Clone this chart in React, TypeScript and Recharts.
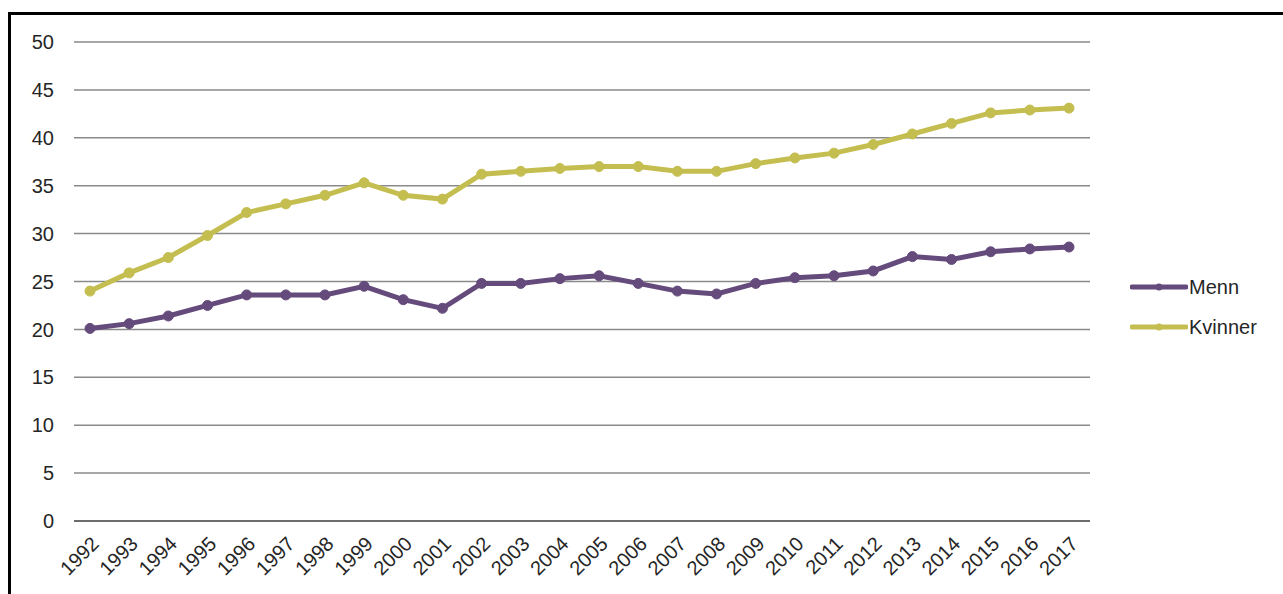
import { LineChart, Line, XAxis, YAxis, CartesianGrid, Legend } from "recharts";

const years = [
  "1992", "1993", "1994", "1995", "1996", "1997", "1998", "1999", "2000", "2001", "2002", "2003", "2004",
  "2005", "2006", "2007", "2008", "2009", "2010", "2011", "2012", "2013", "2014", "2015", "2016", "2017",
];

const menn = [
  20.1, 20.6, 21.4, 22.5, 23.6, 23.6, 23.6, 24.5, 23.1, 22.2, 24.8, 24.8, 25.3,
  25.6, 24.8, 24.0, 23.7, 24.8, 25.4, 25.6, 26.1, 27.6, 27.3, 28.1, 28.4, 28.6,
];

const kvinner = [
  24.0, 25.9, 27.5, 29.8, 32.2, 33.1, 34.0, 35.3, 34.0, 33.6, 36.2, 36.5, 36.8,
  37.0, 37.0, 36.5, 36.5, 37.3, 37.9, 38.4, 39.3, 40.4, 41.5, 42.6, 42.9, 43.1,
];

const yTicks = [0, 5, 10, 15, 20, 25, 30, 35, 40, 45, 50];

const MENN_COLOR = "#654b7c";
const KVINNER_COLOR = "#c4be50";
const FONT = "'Liberation Sans', Arial, sans-serif";

const data = years.map((year, i) => ({ year, Menn: menn[i], Kvinner: kvinner[i] }));

const LegendBox = () => {
  const items = [
    { name: "Menn", color: MENN_COLOR },
    { name: "Kvinner", color: KVINNER_COLOR },
  ];
  return (
    <div style={{ fontFamily: FONT }}>
      {items.map((it) => (
        <div key={it.name} style={{ display: "flex", alignItems: "center", height: 40 }}>
          <svg width={58} height={12} style={{ display: "block" }}>
            <line x1={2} y1={6} x2={56} y2={6} stroke={it.color} strokeWidth={5} strokeLinecap="round" />
            <circle cx={29} cy={6} r={3.5} fill={it.color} />
          </svg>
          <span style={{ fontSize: 20, color: "#262626", marginLeft: 1 }}>{it.name}</span>
        </div>
      ))}
    </div>
  );
};

export default function App() {
  return (
    <div style={{ position: "absolute", left: 0, top: 0, width: 1283, height: 594, background: "#fff", overflow: "hidden" }}>
      <div
        style={{
          position: "absolute",
          left: 8,
          top: 12,
          width: 1300,
          height: 600,
          borderLeft: "3px solid #000",
          borderTop: "3px solid #000",
        }}
      />
      <div style={{ position: "absolute", left: 0, top: 0 }}>
        <LineChart width={1283} height={594} data={data} margin={{ top: 42, right: 193, bottom: 3, left: 0 }}>
          <CartesianGrid horizontal vertical={false} stroke="#8a8a8a" strokeWidth={1.5} />
          <XAxis
            dataKey="year"
            interval={0}
            angle={-45}
            textAnchor="end"
            height={70}
            tickLine={false}
            tickMargin={8}
            padding={{ left: 16, right: 21 }}
            axisLine={{ stroke: "#595959", strokeWidth: 1.5 }}
            tick={{ fontSize: 20, fill: "#262626", fontFamily: FONT }}
          />
          <YAxis
            domain={[0, 50]}
            ticks={yTicks}
            width={74}
            axisLine={false}
            tickLine={false}
            tickMargin={14}
            tick={{ fontSize: 20, fill: "#262626", fontFamily: FONT }}
          />
          <Legend
            layout="horizontal"
            align="center"
            verticalAlign="middle"
            content={<LegendBox />}
            wrapperStyle={{ left: 1130, top: 267, width: 150 }}
          />
          <Line
            type="linear"
            dataKey="Menn"
            stroke={MENN_COLOR}
            strokeWidth={5}
            dot={{ r: 5, fill: MENN_COLOR, stroke: MENN_COLOR, strokeWidth: 1 }}
            isAnimationActive={false}
          />
          <Line
            type="linear"
            dataKey="Kvinner"
            stroke={KVINNER_COLOR}
            strokeWidth={5}
            dot={{ r: 5, fill: KVINNER_COLOR, stroke: KVINNER_COLOR, strokeWidth: 1 }}
            isAnimationActive={false}
          />
        </LineChart>
      </div>
    </div>
  );
}
